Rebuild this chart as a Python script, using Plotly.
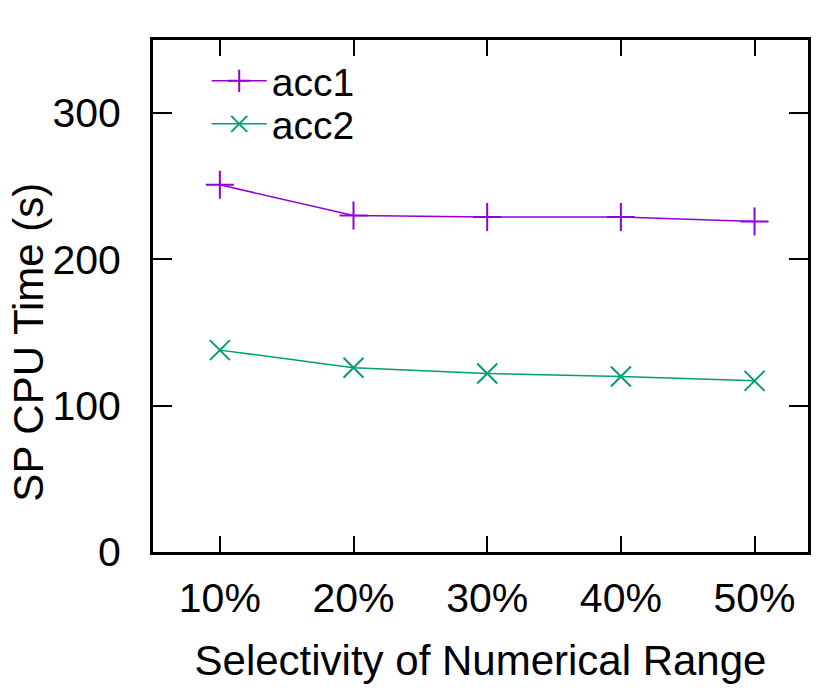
import plotly.graph_objects as go

selectivity = [10, 20, 30, 40, 50]
tick_labels = ["10%", "20%", "30%", "40%", "50%"]
acc1 = [251, 230, 229, 229, 226]
acc2 = [138, 126, 122, 120, 117]

font = dict(family="Liberation Sans, Arial, sans-serif", size=41, color="black")

fig = go.Figure()
fig.add_trace(go.Scatter(
    x=selectivity, y=acc1, name="acc1", mode="lines+markers",
    line=dict(color="#9400D3", width=1.5),
    marker=dict(symbol="cross-thin-open", size=20, line=dict(color="#9400D3", width=2)),
    legend="legend",
))
fig.add_trace(go.Scatter(
    x=selectivity, y=acc2, name="acc2", mode="lines+markers",
    line=dict(color="#009E73", width=1.5),
    marker=dict(symbol="x-thin-open", size=20, line=dict(color="#009E73", width=2)),
    legend="legend2",
))

# the page body adds 8px offset, so the figure is a bit smaller
leg = dict(bgcolor="rgba(0,0,0,0)", font=dict(size=39), xanchor="left",
           yanchor="middle", itemwidth=55)

# y title sits a bit below the middle, like gnuplot's
fig.add_annotation(
    text="SP CPU Time (s)", textangle=-90, showarrow=False,
    xref="paper", yref="paper", x=-0.19, y=0.41,
    xanchor="center", yanchor="middle", font=dict(size=42), borderpad=0,
)

fig.update_layout(
    width=822, height=682,
    margin=dict(l=145, r=22, t=32, b=138),
    paper_bgcolor="white", plot_bgcolor="white",
    font=font,
    showlegend=True,
    legend=dict(leg, x=0.082, y=(552 - 81) / 512),
    legend2=dict(leg, x=0.082, y=(552 - 124) / 512),
    xaxis=dict(
        range=[5, 54], tickvals=selectivity, ticktext=tick_labels,
        ticks="inside", ticklen=16, tickwidth=1.5, tickcolor="black",
        showline=True, linecolor="black", linewidth=3, mirror="ticks",
        showgrid=False, zeroline=False, ticklabelstandoff=8, automargin=False,
        title=dict(text="Selectivity of Numerical Range", standoff=26,
                   font=dict(size=42)),
    ),
    yaxis=dict(
        range=[0, 350], tickvals=[0, 100, 200, 300],
        ticks="inside", ticklen=19, tickwidth=1.5, tickcolor="black",
        showline=True, linecolor="black", linewidth=3, mirror="ticks",
        showgrid=False, zeroline=False, ticklabelstandoff=21, automargin=False,
    ),
)

fig.write_html("out.html")
